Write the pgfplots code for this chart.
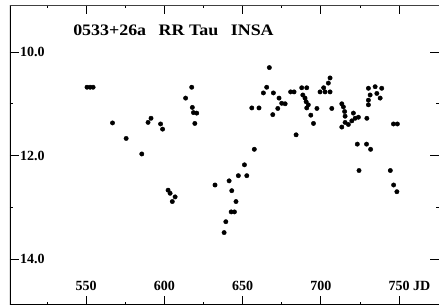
\documentclass[border=0pt]{standalone}
\usepackage{fontspec}
\setmainfont{Liberation Serif}
\usepackage{pgfplots}
\pgfplotsset{compat=1.18}
\usepackage{pgfplotstable}
\pgfplotstableread{
jd mag
550.6 10.68
552.6 10.68
554.5 10.68
566.9 11.37
575.6 11.67
585.6 11.97
589.6 11.36
591.5 11.28
597.6 11.39
598.9 11.49
602.4 12.67
603.7 12.73
605.1 12.89
606.9 12.80
613.6 10.89
617.5 10.68
617.9 11.07
618.6 11.17
620.7 11.18
619.5 11.38
632.4 12.57
638.2 13.49
639.3 13.28
641.4 12.49
642.7 13.09
644.8 13.09
643.1 12.68
645.8 12.89
647.3 12.39
652.7 12.39
651.2 12.18
657.5 11.88
655.9 11.08
660.5 11.08
667.1 10.30
665.4 10.68
663.3 10.79
669.7 10.79
673.3 10.89
675.0 10.99
677.2 11.00
672.5 11.09
669.3 11.21
684.2 11.60
680.7 10.77
682.9 10.77
687.8 10.69
691.0 10.69
688.5 10.83
689.9 10.89
690.6 10.96
692.0 11.02
691.0 11.08
693.6 11.22
695.3 11.38
697.5 11.09
699.5 10.77
702.7 10.77
705.9 10.77
701.8 10.69
704.8 10.60
705.9 10.50
707.0 11.09
713.4 11.00
714.4 11.06
715.2 11.15
715.5 11.24
720.8 11.18
713.4 11.45
715.5 11.36
717.6 11.40
719.8 11.33
721.9 11.28
724.0 11.26
729.4 11.28
730.4 10.70
734.7 10.67
738.9 10.70
731.5 10.83
735.8 10.80
737.9 10.89
730.4 10.93
730.4 11.02
746.4 11.39
748.9 11.39
723.3 11.78
729.2 11.78
731.8 11.88
724.4 12.29
744.4 12.29
746.5 12.57
748.6 12.70
}\datatable
\begin{document}
\begin{tikzpicture}
\begin{axis}[
  name=ax,
  scale only axis,
  width=429pt, height=300pt,
  xmin=501.4, xmax=775.5,
  ymin=9.09, ymax=14.89,
  y dir=reverse,
  axis line style={draw=none},
  xtick={550,600,650,700,750},
  xticklabels={550,600,650,700,{750\rlap{ JD}}},
  minor xtick={525,575,625,675,725},
  ytick={10,12,14},
  yticklabels={10.0,12.0,14.0},
  minor ytick={11,13},
  major tick length=9pt,
  minor tick length=3pt,
  tick style={line width=0.8pt, black},
  tick align=inside,
  /pgf/number format/assume math mode=true,
  xticklabel style={anchor=south, inner sep=0pt, yshift=14pt, font=\fontsize{14}{14}\selectfont\bfseries},
  yticklabel style={anchor=west, inner sep=0pt, xshift=10pt, font=\fontsize{14}{14}\selectfont\bfseries},
]
\addplot[only marks, mark=*, mark size=2.2pt, black] table[x=jd, y=mag] {\datatable};
\draw[line width=2pt] (rel axis cs:0,0) -- (rel axis cs:0,1);
\draw[line width=1.5pt] (rel axis cs:0,0) -- (rel axis cs:1,0);
\draw[line width=0.7pt, black!75] (rel axis cs:0,1) -- (rel axis cs:1,1);
\node[anchor=west, inner sep=0pt, font=\fontsize{16}{16}\selectfont\bfseries] at (rel axis cs:0.147,0.917) {\scalebox{1.12}[1]{0533+26a\hspace{0.7em}RR Tau\hspace{0.7em}INSA}};
\end{axis}
\pgfresetboundingbox
\path ([shift={(-10pt,-3pt)}]ax.south west) rectangle ([shift={(0pt,5pt)}]ax.north east);
\end{tikzpicture}
\end{document}
